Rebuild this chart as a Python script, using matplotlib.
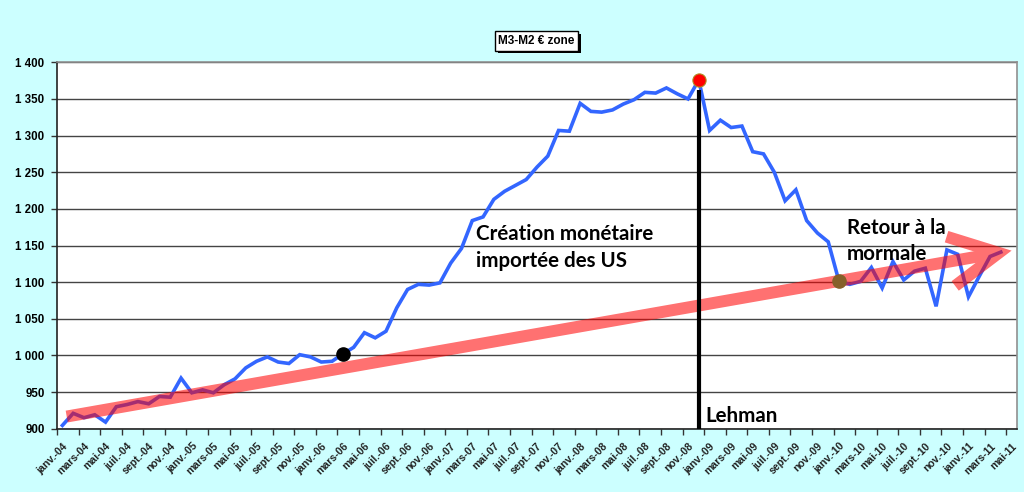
import matplotlib
matplotlib.use("Agg")
import matplotlib.pyplot as plt
import matplotlib.patheffects as pe
from matplotlib.patches import FancyArrowPatch
import numpy as np

# ---- data ----
month_names = ["janv.", "févr.", "mars", "avr.", "mai", "juin",
               "juil.", "août", "sept.", "oct.", "nov.", "déc."]
categories = [f"{month_names[m]}-{y:02d}" for y in range(4, 12) for m in range(12)][:89]  # janv.-04 .. mai-11

values = [904.5, 921, 915, 919, 909, 930, 933, 937, 934, 944, 943, 969,
          949, 953, 949, 960, 968, 983, 992, 998, 991, 989, 1001, 998,
          991, 992, 1002, 1011, 1031, 1024, 1033, 1065, 1090, 1097, 1096, 1099,
          1126, 1146, 1184, 1189, 1213, 1224, 1232, 1240, 1257, 1272, 1307, 1306,
          1344, 1333, 1332, 1335, 1343, 1349, 1359, 1358, 1365, 1357, 1350, 1376,
          1307, 1321, 1311, 1313, 1278, 1275, 1250, 1211, 1226, 1184, 1167, 1155,
          1101, 1097, 1101, 1120, 1092, 1128, 1103, 1115, 1119, 1067, 1144, 1138,
          1080, 1108, 1135, 1141]

yticks = list(range(900, 1401, 50))

# highlighted points (category index)
black_dot_idx = 26
red_dot_idx = 59
brown_dot_idx = 72
lehman_idx = 59
lehman_top = 1362

# trend arrow (data units)
arrow_start = (0.4, 916.6)
arrow_end = (88.0, 1143.0)

# ---- figure ----
W, H, DPI = 10.24, 4.92, 100
rect = [57 / 1024, 1 - 428.7 / 492, 960 / 1024, (428.7 - 62.3) / 492]
XLIM = (-0.5, len(categories) - 0.5)
YLIM = (900, 1400)
bg = "#ccffff"

fig = plt.figure(figsize=(W, H), dpi=DPI, facecolor=bg)
ax = fig.add_axes(rect)
ax.set_facecolor("white")

x = np.arange(len(values))
ax.plot(x, values, color="#3366ff", lw=2.6, zorder=3, solid_joinstyle="miter")

ax.set_xlim(*XLIM)
ax.set_ylim(*YLIM)

# grid
ax.set_yticks(yticks)
ax.set_yticklabels([f"{v:,}".replace(",", " ") for v in yticks],
                   fontfamily="Liberation Sans", fontweight="bold", fontsize=8.3)
ax.yaxis.grid(True, color="#444444", lw=1.0, zorder=1)
ax.tick_params(axis="y", length=4, width=1, pad=5, color="#333333")

# x ticks: labels every 2 months on category centres, marks between
lab_pos = list(range(0, len(categories), 2))
ax.set_xticks(lab_pos)
ax.set_xticklabels([categories[i] for i in lab_pos], rotation=45, ha="right",
                   va="top", rotation_mode="anchor",
                   fontfamily="Liberation Sans", fontweight="bold", fontsize=7.6,
                   color="#222222")
ax.tick_params(axis="x", which="major", length=0, pad=9)
ax.set_xticks(np.arange(-0.5, len(categories) - 1, 2), minor=True)
ax.tick_params(axis="x", which="minor", length=4, width=1, color="#333333")

for s in ["left", "bottom"]:
    ax.spines[s].set_color("#222222")
    ax.spines[s].set_linewidth(1.2)
for s in ["top", "right"]:
    ax.spines[s].set_color("#909090")
    ax.spines[s].set_linewidth(1.2)

# ---- translucent trend arrow, rendered as one layer (no darker overlaps) ----
fig2 = plt.figure(figsize=(W, H), dpi=DPI)
fig2.patch.set_alpha(0)
ax2 = fig2.add_axes(rect)
ax2.set_xlim(*XLIM)
ax2.set_ylim(*YLIM)
ax2.axis("off")
ax2.patch.set_alpha(0)
ax2.add_patch(FancyArrowPatch(arrow_start, arrow_end,
                              arrowstyle="->,head_length=3.5,head_width=1.8",
                              mutation_scale=10, lw=8.6, color="red",
                              shrinkA=0, shrinkB=0, capstyle="butt",
                              joinstyle="miter"))
fig2.canvas.draw()
buf = np.asarray(fig2.canvas.buffer_rgba()).astype(float) / 255.0
bb = ax2.get_window_extent()
hpx = buf.shape[0]
x0, x1 = int(round(bb.x0)), int(round(bb.x1))
y0, y1 = int(round(hpx - bb.y1)), int(round(hpx - bb.y0))
layer = buf[y0:y1, x0:x1].copy()
layer[..., 3] *= 0.56
plt.close(fig2)
ax.imshow(layer, extent=(XLIM[0], XLIM[1], YLIM[0], YLIM[1]), aspect="auto",
          interpolation="nearest", zorder=4)
ax.set_xlim(*XLIM)
ax.set_ylim(*YLIM)

# Lehman line
ax.vlines(lehman_idx, 900, lehman_top, color="black", lw=3, zorder=5)

# dots
ax.plot(black_dot_idx, values[black_dot_idx], "o", ms=9.5, color="black", zorder=6)
ax.plot(red_dot_idx, values[red_dot_idx], "o", ms=9.5, color="red",
        mec="#b08a20", mew=0.8, zorder=6)
ax.plot(brown_dot_idx, values[brown_dot_idx], "o", ms=9.5, color="#86602a", zorder=6)

# texts
tfont = dict(fontfamily="Lato", fontweight="bold", fontsize=14.8, color="black",
             ha="left", va="baseline", zorder=7)
fig.text(476 / 1024, 1 - 240 / 492, "Création monétaire", **tfont)
fig.text(476 / 1024, 1 - 266.7 / 492, "importée des US", **tfont)
fig.text(847 / 1024, 1 - 234.3 / 492, "Retour à la", **tfont)
fig.text(847 / 1024, 1 - 260 / 492, "mormale", **tfont)
fig.text(705 / 1024, 1 - 422.5 / 492, "Lehman", **tfont)

# title box
t = fig.text(536.5 / 1024, 1 - 41 / 492, "M3-M2 € zone", ha="center", va="center",
             fontfamily="Liberation Sans", fontweight="bold", fontsize=8.5,
             bbox=dict(boxstyle="square,pad=0.3", fc="white", ec="black", lw=1))
t.get_bbox_patch().set_path_effects([
    pe.SimplePatchShadow(offset=(2, -2), shadow_rgbFace="black", alpha=1.0),
    pe.Normal()])

fig.savefig("out.png", dpi=DPI, facecolor=bg)
